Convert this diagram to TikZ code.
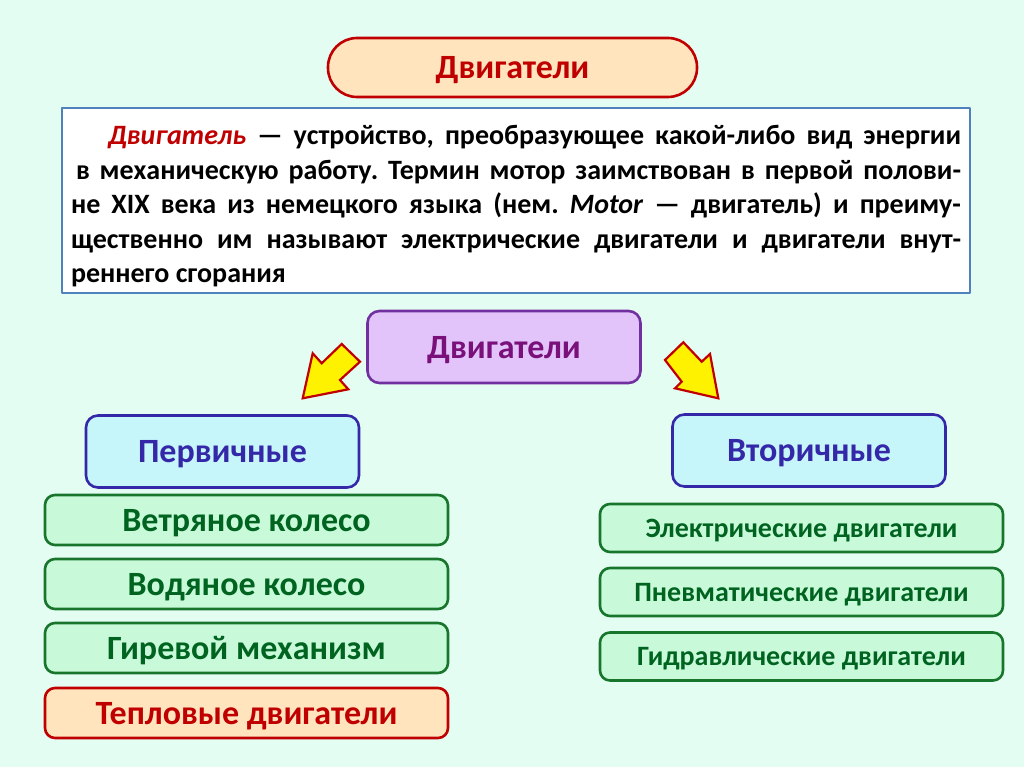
\documentclass[tikz,border=0pt]{standalone}
\usepackage{fontspec}
\setmainfont{Carlito}

\definecolor{bgmint}{RGB}{228,253,242}
\definecolor{peach}{RGB}{255,228,190}
\definecolor{darkred}{RGB}{192,0,0}
\definecolor{frameblue}{RGB}{79,129,189}
\definecolor{lavender}{RGB}{226,196,250}
\definecolor{violet}{RGB}{112,48,160}
\definecolor{violettext}{RGB}{122,16,122}
\definecolor{lightcyan}{RGB}{198,245,250}
\definecolor{indigo}{RGB}{52,40,168}
\definecolor{lightgreen}{RGB}{200,250,218}
\definecolor{boxgreen}{RGB}{24,118,44}
\definecolor{textgreen}{RGB}{0,100,32}

\begin{document}
\begin{tikzpicture}[
    x=1pt, y=-1pt,
    line join=round,
    title/.style={
        draw=darkred, fill=peach, line width=2.6pt,
        rounded corners=29pt, minimum width=369pt, minimum height=59pt,
        text height=22pt, text depth=0pt,
        text=darkred, font=\bfseries\fontsize{34}{38}\selectfont
    },
    group/.style={
        line width=2.6pt, rounded corners=12pt,
        minimum width=273pt, minimum height=72pt,
        text height=22pt, text depth=0pt,
        font=\bfseries\fontsize{34}{38}\selectfont
    },
    item/.style={
        draw=boxgreen, fill=lightgreen, line width=2.6pt,
        rounded corners=10pt, minimum width=403pt, minimum height=50pt,
        text height=22pt, text depth=0pt,
        text=textgreen, font=\bfseries\fontsize{34}{38}\selectfont
    },
    smallitem/.style={
        item, minimum height=48pt, text height=18pt,
        font=\bfseries\fontsize{28}{32}\selectfont
    },
    hot/.style={
        draw=darkred, fill=peach, text=darkred
    },
    blockarrow/.style={
        draw=darkred, fill=yellow, line width=2.2pt, line join=miter
    }
]

% =================================================
% Фон
% =================================================

\fill[bgmint] (0,0) rectangle (1024,767);

% =================================================
% Заголовок и определение
% =================================================

\node[title] (title) at (512.5,67.5) {Двигатели};

\node[draw=frameblue, fill=white, line width=1.8pt,
      minimum width=908pt, minimum height=185pt,
      text width=890pt, align=justify, inner sep=0pt,
      font=\bfseries\fontsize{28}{34.5}\selectfont]
    (defn) at (516,200.5)
    {\frenchspacing\rule{0pt}{31pt}%
     \hspace*{37pt}\textcolor{darkred}{\textit{Двигатель}} — устройство, преобразующее какой-либо вид энергии\linebreak
     \hspace*{5pt}в механическую работу. Термин мотор заимствован в первой полови-\linebreak
     не XIX века из немецкого языка (нем. \textit{Motor} — двигатель) и преиму-\linebreak
     щественно им называют электрические двигатели и двигатели внут-\linebreak
     реннего сгорания\par};

% =================================================
% Классификация
% =================================================

\node[group, draw=violet, fill=lavender, text=violettext]
    (engines) at (504,347) {Двигатели};

\node[group, draw=indigo, fill=lightcyan, text=indigo]
    (primary) at (222.5,451.5) {Первичные};
\node[group, draw=indigo, fill=lightcyan, text=indigo]
    (secondary) at (809,450.5) {Вторичные};

% Первичные двигатели
\node[item] (wind)   at (246.5,520) {Ветряное колесо};
\node[item] (water)  at (246.5,584) {Водяное колесо};
\node[item] (weight) at (246.5,648) {Гиревой механизм};
\node[item, hot] (heat) at (246.5,713) {Тепловые двигатели};

% Вторичные двигатели
\node[smallitem] (electric)  at (801.5,528)   {Электрические двигатели};
\node[smallitem] (pneumatic) at (801.5,592)   {Пневматические двигатели};
\node[smallitem] (hydraulic) at (801.5,656.5) {Гидравлические двигатели};

% =================================================
% Стрелки
% =================================================

% Левая стрелка
\coordinate (L1) at (302.7,398.3);
\coordinate (L2) at (312.7,353.3);
\coordinate (L3) at (321.7,363.3);
\coordinate (L4) at (341.7,344);
\coordinate (L5) at (360,361.7);
\coordinate (L6) at (340,380);
\coordinate (L7) at (348.3,389.3);

\draw[blockarrow]
    (L1)--(L2)--(L3)--(L4)--(L5)--(L6)--(L7)--cycle;

% Правая стрелка
\coordinate (R1) at (718.3,398.3);
\coordinate (R2) at (710,354);
\coordinate (R3) at (701.7,361.7);
\coordinate (R4) at (683.3,342.3);
\coordinate (R5) at (665,360);
\coordinate (R6) at (681.7,381.7);
\coordinate (R7) at (675,388.3);

\draw[blockarrow]
    (R1)--(R2)--(R3)--(R4)--(R5)--(R6)--(R7)--cycle;

\end{tikzpicture}
\end{document}
